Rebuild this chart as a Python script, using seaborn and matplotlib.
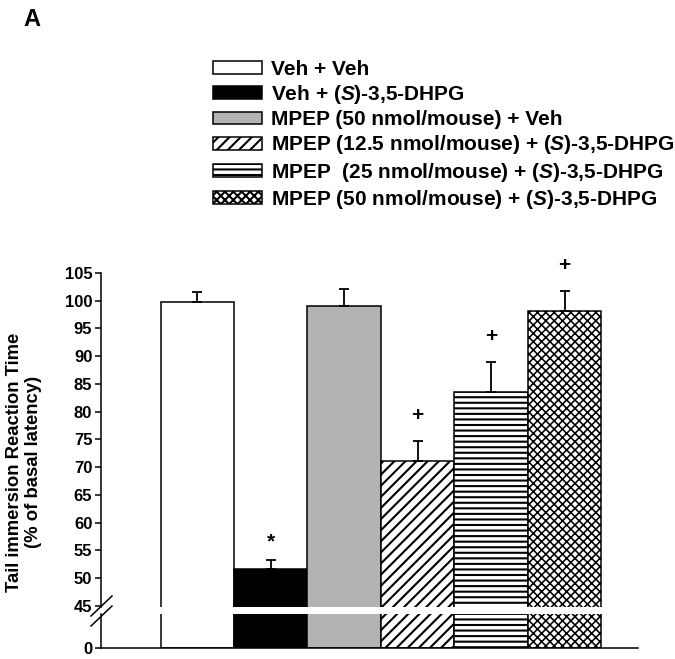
import matplotlib
matplotlib.use("Agg")
import matplotlib.pyplot as plt
from matplotlib.patches import Patch
from matplotlib.lines import Line2D
import seaborn as sns
import pandas as pd
import numpy as np

# ---- data ----
groups = ["Veh + Veh",
          "Veh + (S)-3,5-DHPG",
          "MPEP (50 nmol/mouse) + Veh",
          "MPEP (12.5 nmol/mouse) + (S)-3,5-DHPG",
          "MPEP  (25 nmol/mouse) + (S)-3,5-DHPG",
          "MPEP (50 nmol/mouse) + (S)-3,5-DHPG"]
legend_labels = ["Veh + Veh",
                 r"Veh + $\mathit{(S)}$-3,5-DHPG",
                 "MPEP (50 nmol/mouse) + Veh",
                 r"MPEP (12.5 nmol/mouse) + $\mathit{(S)}$-3,5-DHPG",
                 r"MPEP  (25 nmol/mouse) + $\mathit{(S)}$-3,5-DHPG",
                 r"MPEP (50 nmol/mouse) + $\mathit{(S)}$-3,5-DHPG"]
means = [99.7, 51.6, 99.1, 71.2, 83.6, 98.2]
sems = [1.9, 1.7, 3.1, 3.6, 5.3, 3.6]
marks = ["", "*", "", "+", "+", "+"]
yticks_top = [45, 50, 55, 60, 65, 70, 75, 80, 85, 90, 95, 100, 105]
yticks_bot = [0]

colors = ["white", "black", "#b3b3b3", "white", "white", "white"]
hatches = [None, None, None, "///", "---", "xxxx"]
hatch_lw = [1.5, 1.5, 1.5, 1.5, 1.5, 1.15]

df = pd.DataFrame({"group": groups, "value": means})

plt.rcParams["font.family"] = ["Liberation Sans", "DejaVu Sans"]
plt.rcParams["font.weight"] = "bold"
plt.rcParams["mathtext.fontset"] = "custom"
plt.rcParams["mathtext.rm"] = "Liberation Sans:bold"
plt.rcParams["mathtext.it"] = "Liberation Sans:italic:bold"
plt.rcParams["hatch.linewidth"] = 1.5
plt.rcParams["hatch.color"] = "black"

W, H = 675, 659
fig = plt.figure(figsize=(W / 100, H / 100), dpi=100)
ax_top = fig.add_axes([101 / W, 1 - 607 / H, 537 / W, 334 / H])
ax_bot = fig.add_axes([101 / W, 1 - 648 / H, 537 / W, 34 / H])

pal = dict(zip(groups, colors))
for ax in (ax_top, ax_bot):
    sns.barplot(data=df, x="group", y="value", hue="group", palette=pal,
                order=groups, hue_order=groups, width=1.0, legend=False,
                errorbar=None, edgecolor="black", linewidth=1.1, ax=ax)
    for p, h, hl in zip(ax.patches, hatches, hatch_lw):
        if h:
            p.set_hatch(h)
            try:
                p.set_hatch_linewidth(hl)
            except Exception:
                pass
    ax.set_xlim(-1.31, 6.0)
    ax.set_xlabel("")
    ax.set_ylabel("")
    ax.set_xticks([])
    for s in ("top", "right"):
        ax.spines[s].set_visible(False)
    ax.spines["left"].set_linewidth(1.1)
    ax.spines["bottom"].set_linewidth(1.1)
    ax.tick_params(axis="y", length=4.3, width=1.1, labelsize=12, pad=2)
    ax.set_facecolor("none")

ax_top.spines["bottom"].set_visible(False)
ax_top.set_ylim(44.8, 105)
ax_top.set_yticks(yticks_top)
ax_top.set_yticklabels([str(t) for t in yticks_top], fontweight="bold")
ax_bot.set_ylim(0, 6)
ax_bot.set_yticks(yticks_bot)
ax_bot.set_yticklabels([str(t) for t in yticks_bot], fontweight="bold")

# error bars (upper only)
xs = np.arange(len(groups))
ax_top.errorbar(xs, means, yerr=[np.zeros(len(sems)), sems], fmt="none",
                ecolor="black", elinewidth=1.3, capsize=3.8, capthick=1.3)

# significance marks
pads = {"*": 3.3, "+": 4.6}
for x, m, s, t in zip(xs, means, sems, marks):
    if t:
        ax_top.text(x, m + s + pads[t], t, ha="center", va="center",
                    fontsize=15, fontweight="bold", clip_on=False)

fig.text(24 / W, 1 - 462 / H, "Tail immersion Reaction Time\n(% of basal latency)",
         rotation=90, ha="center", va="center", fontsize=13.3,
         fontweight="bold", linespacing=1.1)

# axis break marks
for (x0, y0, x1, y1) in [(91, 616, 112, 596), (91, 626, 112, 606)]:
    fig.add_artist(Line2D([x0 / W, x1 / W], [1 - y0 / H, 1 - y1 / H],
                          color="black", lw=1.1, transform=fig.transFigure))

# legend
handles = [Patch(facecolor=c, edgecolor="black", hatch=h, linewidth=1.1)
           for c, h in zip(colors, hatches)]
fig.legend(handles, legend_labels, loc="upper left",
           bbox_to_anchor=(213 / W, 1 - 60 / H), frameon=False,
           prop={"size": 15, "weight": "bold"}, handlelength=2.35,
           handleheight=0.58, handletextpad=0.45, labelspacing=0.2,
           borderpad=0, borderaxespad=0)

fig.text(32 / W, 1 - 19 / H, "A", fontsize=17, fontweight="bold",
         ha="center", va="center")

fig.savefig("out.png", dpi=100)
